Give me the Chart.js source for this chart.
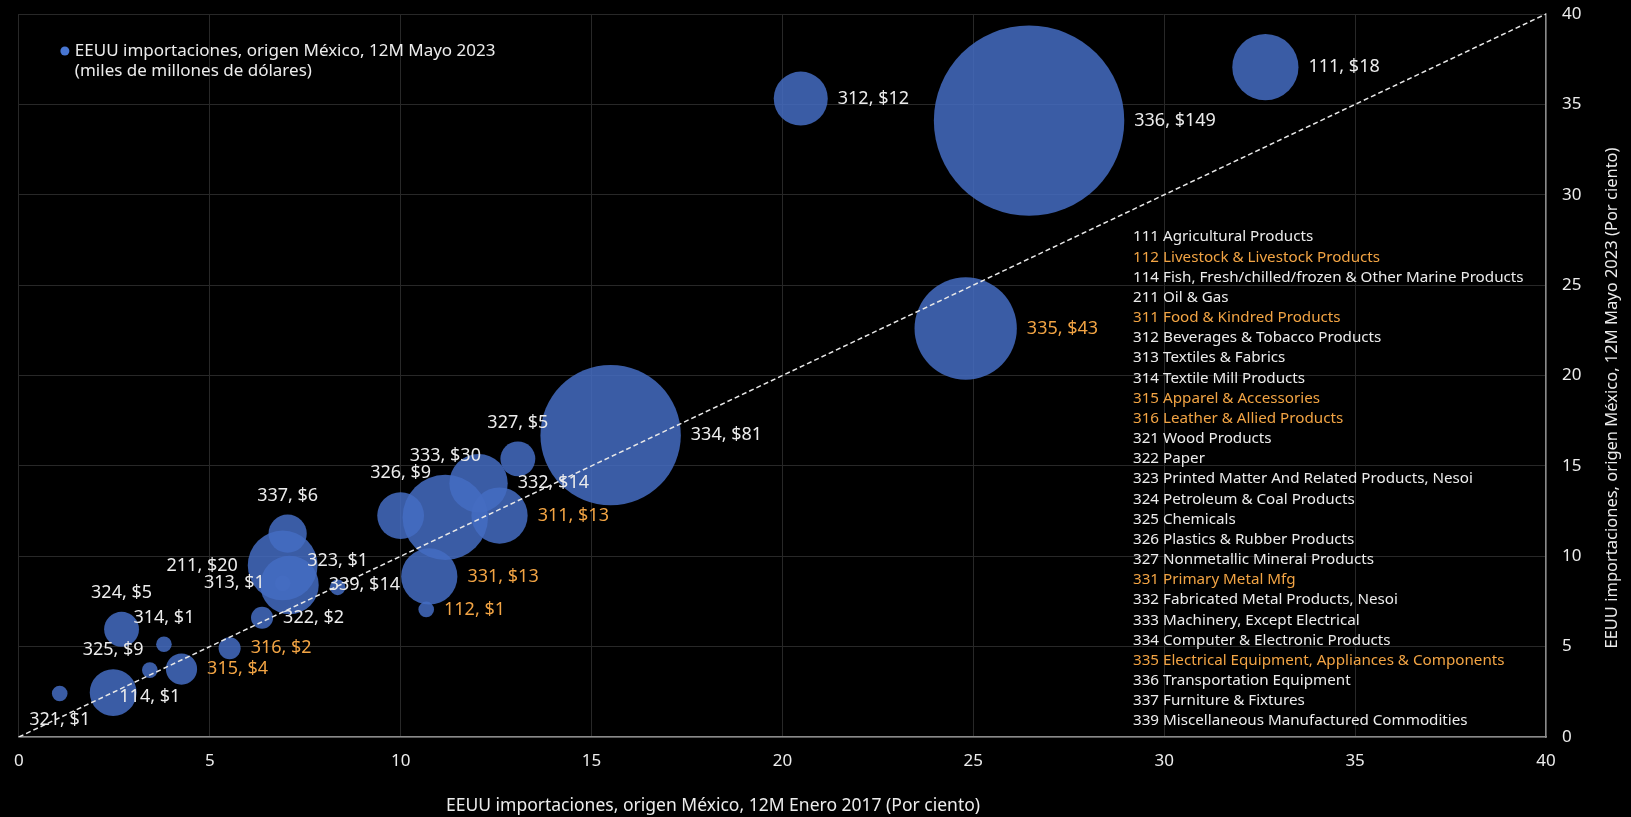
<!DOCTYPE html>
<html>
<head>
<meta charset="utf-8">
<script src="https://cdn.jsdelivr.net/npm/chart.js@4.4.0/dist/chart.umd.min.js"></script>
<style>
  html, body { margin: 0; padding: 0; background: #000; }
</style>
</head>
<body>
<canvas id="importsChart" width="1631" height="817"></canvas>
<script>
// NAICS codes and descriptions
const codes = ['111', '112', '114', '211', '311', '312', '313', '314', '315', '316', '321', '322', '323',
  '324', '325', '326', '327', '331', '332', '333', '334', '335', '336', '337', '339'];
const names = ['Agricultural Products', 'Livestock & Livestock Products', 'Fish, Fresh/chilled/frozen & Other Marine Products',
  'Oil & Gas', 'Food & Kindred Products', 'Beverages & Tobacco Products', 'Textiles & Fabrics', 'Textile Mill Products',
  'Apparel & Accessories', 'Leather & Allied Products', 'Wood Products', 'Paper', 'Printed Matter And Related Products, Nesoi',
  'Petroleum & Coal Products', 'Chemicals', 'Plastics & Rubber Products', 'Nonmetallic Mineral Products', 'Primary Metal Mfg',
  'Fabricated Metal Products, Nesoi', 'Machinery, Except Electrical', 'Computer & Electronic Products',
  'Electrical Equipment, Appliances & Components', 'Transportation Equipment', 'Furniture & Fixtures',
  'Miscellaneous Manufactured Commodities'];

// share of US imports coming from Mexico (%)
const share2017 = [32.65, 10.67, 3.43, 6.91, 12.59, 20.48, 6.91, 3.80, 4.26, 5.52, 1.07, 6.37, 8.35,
  2.69, 2.47, 10.0, 13.07, 10.75, 12.04, 11.17, 15.5, 24.8, 26.46, 7.04, 7.09];
const share2023 = [37.06, 7.06, 3.70, 9.49, 12.25, 35.32, 8.50, 5.13, 3.76, 4.91, 2.41, 6.60, 8.28,
  5.96, 2.46, 12.25, 15.39, 8.88, 14.04, 12.15, 16.7, 22.6, 34.1, 11.25, 8.41];
// imports, 12M May 2023, billions of dollars
const imports = [18, 1, 1, 20, 13, 12, 1, 1, 4, 2, 1, 2, 1, 5, 9, 9, 5, 13, 14, 30, 81, 43, 149, 6, 14];

const highlighted = ['112', '311', '315', '316', '331', '335'];
const diagonal = [0, 40];

// where each bubble label sits
const labelSide = {
  '114': 'below', '321': 'below',
  '211': 'left', '313': 'left',
  '314': 'above', '323': 'above', '324': 'above', '325': 'above',
  '326': 'above', '327': 'above', '333': 'above', '337': 'above'
};

const WHITE = '#ececec';
const ORANGE = '#f2a444';
const FONT = '"Noto Sans", "DejaVu Sans", sans-serif';

const bubbleLabels = {
  id: 'bubbleLabels',
  afterDatasetsDraw(chart) {
    const meta = chart.getDatasetMeta(1);
    const ctx = chart.ctx;
    ctx.save();
    ctx.font = `18px ${FONT}`;
    ctx.textBaseline = 'middle';
    meta.data.forEach((pt, i) => {
      const r = pt.options.radius;
      const side = labelSide[codes[i]] || 'right';
      let x = pt.x, y = pt.y;
      if (side === 'right') { ctx.textAlign = 'left'; x += r + 10; }
      else if (side === 'left') { ctx.textAlign = 'right'; x -= r + 10; }
      else if (side === 'above') { ctx.textAlign = 'center'; y -= r + 19; }
      else { ctx.textAlign = 'center'; y += r + 19; }
      ctx.fillStyle = highlighted.includes(codes[i]) ? ORANGE : WHITE;
      ctx.fillText(`${codes[i]}, $${imports[i]}`, x, y);
    });
    ctx.restore();
  }
};

const annotations = {
  id: 'annotations',
  afterDraw(chart) {
    const { ctx, chartArea } = chart;
    ctx.save();
    ctx.textBaseline = 'middle';

    // legend, top left
    ctx.fillStyle = 'rgba(72, 118, 210, 1)';
    ctx.beginPath();
    ctx.arc(chartArea.left + 46, 51, 4.5, 0, Math.PI * 2);
    ctx.fill();
    ctx.font = `17px ${FONT}`;
    ctx.fillStyle = WHITE;
    ctx.textAlign = 'left';
    ctx.fillText('EEUU importaciones, origen México, 12M Mayo 2023', chartArea.left + 56, 51);
    ctx.fillText('(miles de millones de dólares)', chartArea.left + 56, 71);

    // code list, right side
    ctx.font = `15.2px ${FONT}`;
    codes.forEach((c, i) => {
      ctx.fillStyle = highlighted.includes(c) ? ORANGE : WHITE;
      ctx.fillText(`${c} ${names[i]}`, chartArea.right - 413, 237 + i * 20.17);
    });

    // x axis title (sits left of centre in the original)
    ctx.font = `17.5px ${FONT}`;
    ctx.fillStyle = WHITE;
    ctx.textAlign = 'center';
    ctx.fillText('EEUU importaciones, origen México, 12M Enero 2017 (Por ciento)', 713, chartArea.bottom + 69);

    // right axis title, reading upwards
    ctx.font = `16.5px ${FONT}`;
    ctx.translate(chartArea.right + 66, 398);
    ctx.rotate(-Math.PI / 2);
    ctx.fillText('EEUU importaciones, origen México, 12M Mayo 2023 (Por ciento)', 0, 0);
    ctx.restore();
  }
};

new Chart(document.getElementById('importsChart'), {
  type: 'bubble',
  data: {
    datasets: [
      {
        type: 'line',
        data: diagonal.map(v => ({ x: v, y: v })),
        borderColor: '#e8e8e8',
        borderWidth: 1.5,
        borderDash: [5, 3],
        pointRadius: 0,
        order: 0
      },
      {
        data: codes.map((c, i) => ({ x: share2017[i], y: share2023[i], r: 7.8 * Math.sqrt(imports[i]) })),
        backgroundColor: 'rgba(68, 108, 194, 0.85)',
        borderWidth: 0,
        clip: false,
        order: 1
      }
    ]
  },
  options: {
    responsive: false,
    animation: false,
    devicePixelRatio: 1,
    layout: { autoPadding: false, padding: { top: 14, left: 16, right: 0, bottom: 0 } },
    plugins: {
      legend: { display: false },
      tooltip: { enabled: false }
    },
    scales: {
      x: {
        type: 'linear',
        min: 0,
        max: 40,
        ticks: { stepSize: 5, color: WHITE, font: { family: FONT, size: 17 }, padding: 14 },
        grid: { color: '#282828', drawTicks: false },
        border: { color: '#8a8a8a', width: 1.5 },
        afterFit(scale) { scale.height = 80; }
      },
      y: {
        type: 'linear',
        position: 'right',
        min: 0,
        max: 40,
        ticks: { stepSize: 5, color: WHITE, font: { family: FONT, size: 17 }, padding: 16 },
        grid: { color: '#282828', drawTicks: false },
        border: { color: '#8a8a8a', width: 1.5 },
        afterFit(scale) {
          scale.width = 85;
          scale.paddingTop = 0;
          scale.paddingBottom = 0;
        }
      }
    }
  },
  plugins: [bubbleLabels, annotations]
});
</script>
</body>
</html>
